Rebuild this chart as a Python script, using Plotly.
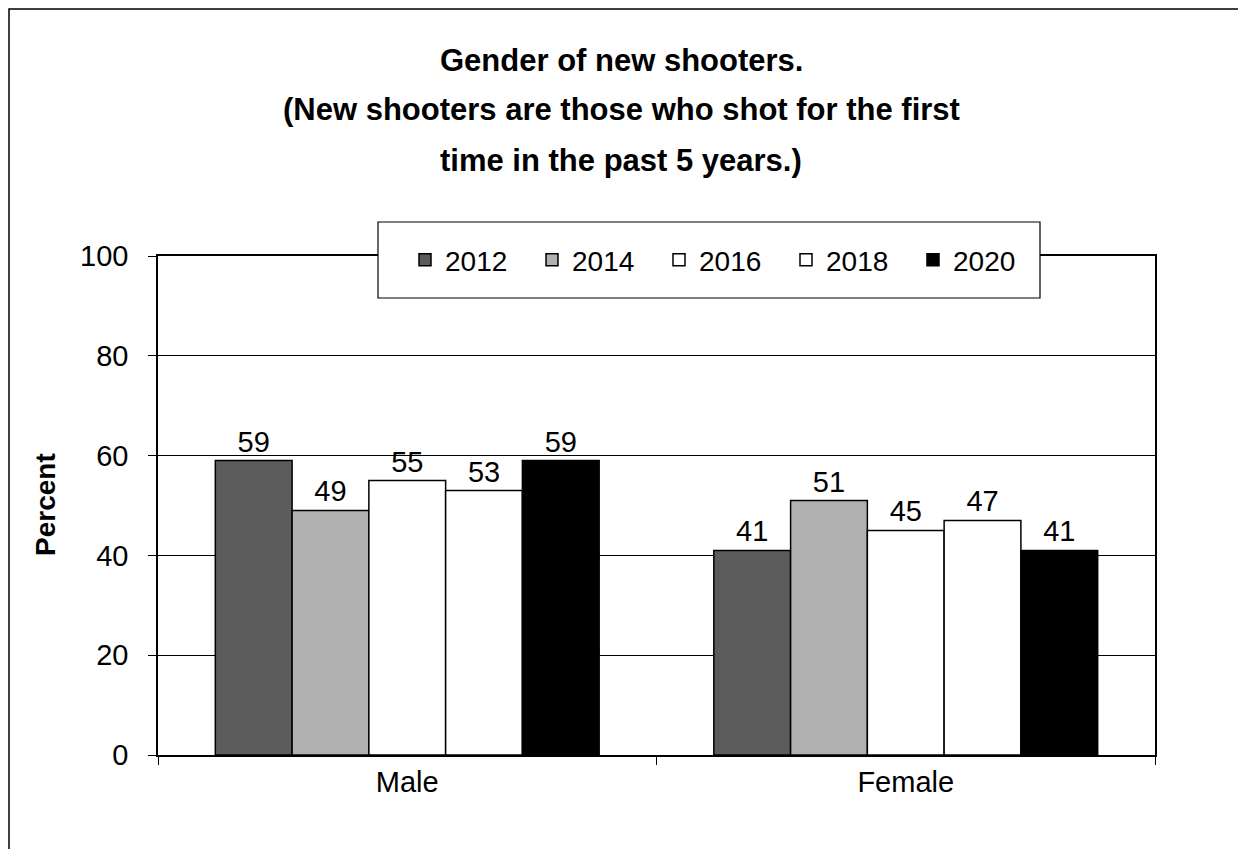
import plotly.graph_objects as go

title_lines = ['Gender of new shooters.',
               '(New shooters are those who shot for the first',
               'time in the past 5 years.)']
yLabel = 'Percent'

categories = ['Male', 'Female']
years = ['2012', '2014', '2016', '2018', '2020']
values = {
    '2012': [59, 41],
    '2014': [49, 51],
    '2016': [55, 45],
    '2018': [53, 47],
    '2020': [59, 41],
}
colors = {
    '2012': '#5c5c5c',
    '2014': '#b0b0b0',
    '2016': '#ffffff',
    '2018': '#ffffff',
    '2020': '#000000',
}

font = 'Liberation Sans, Arial, sans-serif'

# the page has an 8px body margin, so everything is shifted by 8px
OFF = 8
fig = go.Figure()

for yr in years:
    fig.add_trace(go.Bar(x=categories, y=values[yr], name=yr,
                         marker=dict(color=colors[yr],
                                     line=dict(color='black', width=1.5)),
                         text=values[yr], textposition='outside',
                         textfont=dict(size=29, color='black'),
                         cliponaxis=False))

# plot area in reference pixels: x 158..1155, y 256..755
W, H = 997.0, 499.0
def px(x):
    return (x - 158) / W
def py(y):
    return 1 + (256 - y) / H

for line, yc in zip(title_lines, [60, 110, 160]):
    fig.add_annotation(text='<b>' + line + '</b>', xref='paper', yref='paper',
                       x=px(621), y=py(yc), xanchor='center', yanchor='middle',
                       showarrow=False, font=dict(size=31, color='black'))

fig.add_annotation(text='<b>' + yLabel + '</b>', xref='paper', yref='paper',
                   x=px(45), y=py(505), textangle=-90, showarrow=False,
                   xanchor='center', yanchor='middle',
                   font=dict(size=28, color='black'))

# outer frame of the chart
fig.add_shape(type='rect', xref='paper', yref='paper',
              x0=px(9), x1=px(1300), y0=py(900), y1=py(9),
              line=dict(color='black', width=1.5), fillcolor='rgba(0,0,0,0)',
              layer='above')

# legend box
fig.add_shape(type='rect', xref='paper', yref='paper',
              x0=px(378), x1=px(1040), y0=py(298), y1=py(222),
              line=dict(color='black', width=1.2), fillcolor='white',
              layer='above')

fig.update_layout(
    width=1246 - OFF, height=849 - OFF,
    margin=dict(l=158 - OFF, r=91, t=256 - OFF, b=94),
    paper_bgcolor='white', plot_bgcolor='white',
    font=dict(family=font, size=28, color='black'),
    barmode='group', bargap=0.23, bargroupgap=0,
    showlegend=True,
    legend=dict(orientation='h', x=px(405), y=py(260), xanchor='left',
                yanchor='middle', bgcolor='rgba(0,0,0,0)', borderwidth=0,
                font=dict(size=28), entrywidth=82, entrywidthmode='pixels',
                traceorder='normal'),
    xaxis=dict(showline=True, linecolor='black', linewidth=1.5, mirror=True,
               ticks='outside', tickson='boundaries', ticklen=8,
               tickcolor='black', showgrid=False,
               tickfont=dict(size=29)),
    yaxis=dict(range=[0, 100], dtick=20, showline=True, linecolor='black',
               linewidth=1.5, mirror=True, ticks='outside', ticklen=8,
               tickcolor='black', showgrid=True, gridcolor='black',
               gridwidth=1, tickfont=dict(size=29), zeroline=False,
               ticklabelstandoff=14),
)

fig.write_html("out.html")
